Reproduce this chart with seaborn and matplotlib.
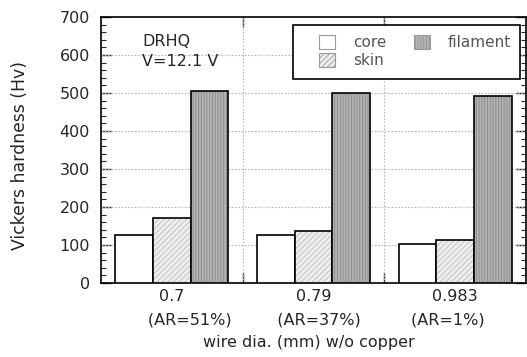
import matplotlib
matplotlib.use("Agg")
import matplotlib.pyplot as plt
import matplotlib.colors as mcolors
from matplotlib.patches import Patch, Rectangle
from matplotlib.ticker import MultipleLocator, FixedLocator
import seaborn as sns
import pandas as pd

# data
diameters = ["0.7\n       (AR=51%)", "0.79\n  (AR=37%)", "0.983\n(AR=1%)   "]
parts = ["core", "skin", "filament"]
core = [126, 126, 102]
skin = [170, 137, 112]
filament = [505, 500, 493]

df = pd.DataFrame({
    "dia": diameters * 3,
    "part": ["core"] * 3 + ["skin"] * 3 + ["filament"] * 3,
    "hv": core + skin + filament,
})

fills = {"core": "#ffffff", "skin": "#eeeeee", "filament": "#b2b2b2"}
hatches = {"core": "", "skin": "//////", "filament": "||||||"}
hatch_cols = {"core": "#000000", "skin": "#bdbdbd", "filament": "#8a8a8a"}

sns.set_style("white")
plt.rcParams["font.family"] = ["DejaVu Sans"]
plt.rcParams["hatch.linewidth"] = 0.6

fig, ax = plt.subplots(figsize=(5.27, 3.57), dpi=100)
fig.subplots_adjust(left=101 / 527, right=526 / 527, top=1 - 17 / 357, bottom=1 - 283 / 357)

sns.barplot(data=df, x="dia", y="hv", hue="part", hue_order=parts, order=diameters,
            palette=fills, saturation=1, width=0.8, edgecolor="black",
            linewidth=1.2, legend=False, ax=ax, zorder=3)

for cont, part in zip(ax.containers, parts):
    for bar in cont:
        bar.set_hatch(hatches[part])
        bar._hatch_color = mcolors.to_rgba(hatch_cols[part])

ax.set_xlim(-0.5, 2.5)
ax.set_ylim(0, 700)
ax.yaxis.set_major_locator(MultipleLocator(100))
ax.yaxis.set_minor_locator(MultipleLocator(20))
ax.xaxis.set_minor_locator(FixedLocator([0.5, 1.5]))

ax.tick_params(axis="y", which="major", direction="in", length=7, width=1, labelsize=11.5,
               left=True, right=True, pad=8)
ax.tick_params(axis="y", which="minor", direction="in", length=3.5, width=0.8,
               left=True, right=True)
ax.tick_params(axis="x", which="major", length=0, labelsize=11.5, pad=4)
ax.tick_params(axis="x", which="minor", direction="in", length=7, width=1,
               bottom=True, top=True)
for lab in ax.get_xticklabels():
    lab.set_linespacing(1.75)

for y in range(100, 700, 100):
    ax.axhline(y, color="#b8b8b8", ls=(0, (1.5, 1.5)), lw=0.8, zorder=1)
for x in [0.5, 1.5]:
    ax.axvline(x, color="#b8b8b8", ls=(0, (1.5, 1.5)), lw=0.8, zorder=1)

for s in ax.spines.values():
    s.set_color("black")
    s.set_linewidth(1.2)

ax.set_ylabel("Vickers hardness (Hv)", fontsize=12.4)
ax.yaxis.set_label_coords(-0.169, 0.481)
ax.set_xlabel("wire dia. (mm) w/o copper", fontsize=11.5)
ax.xaxis.set_label_coords(0.489, -0.195)

ax.text(-0.21, 655, "DRHQ\nV=12.1 V", fontsize=11.5, va="top", ha="left",
        linespacing=1.4)

# legend box drawn by hand so its padding can match the reference
ax.add_patch(Rectangle((0.452, 0.767), 0.534, 0.203, transform=ax.transAxes,
                       facecolor="white", edgecolor="black", lw=1.2, zorder=4))
handles = [Patch(facecolor=fills[p], hatch=hatches[p], edgecolor="#999999",
                 linewidth=0.8, label=p) for p in parts]
leg = ax.legend(handles=handles, ncol=2, loc="upper right",
                bbox_to_anchor=(0.965, 0.932), borderaxespad=0, frameon=False,
                fontsize=11, handlelength=1.05, handleheight=1.0, handletextpad=1.18,
                columnspacing=1.8, labelspacing=0.2, borderpad=0)
leg.set_zorder(5)
for t in leg.get_texts():
    t.set_color("#555555")

fig.savefig("out.png", dpi=100)
